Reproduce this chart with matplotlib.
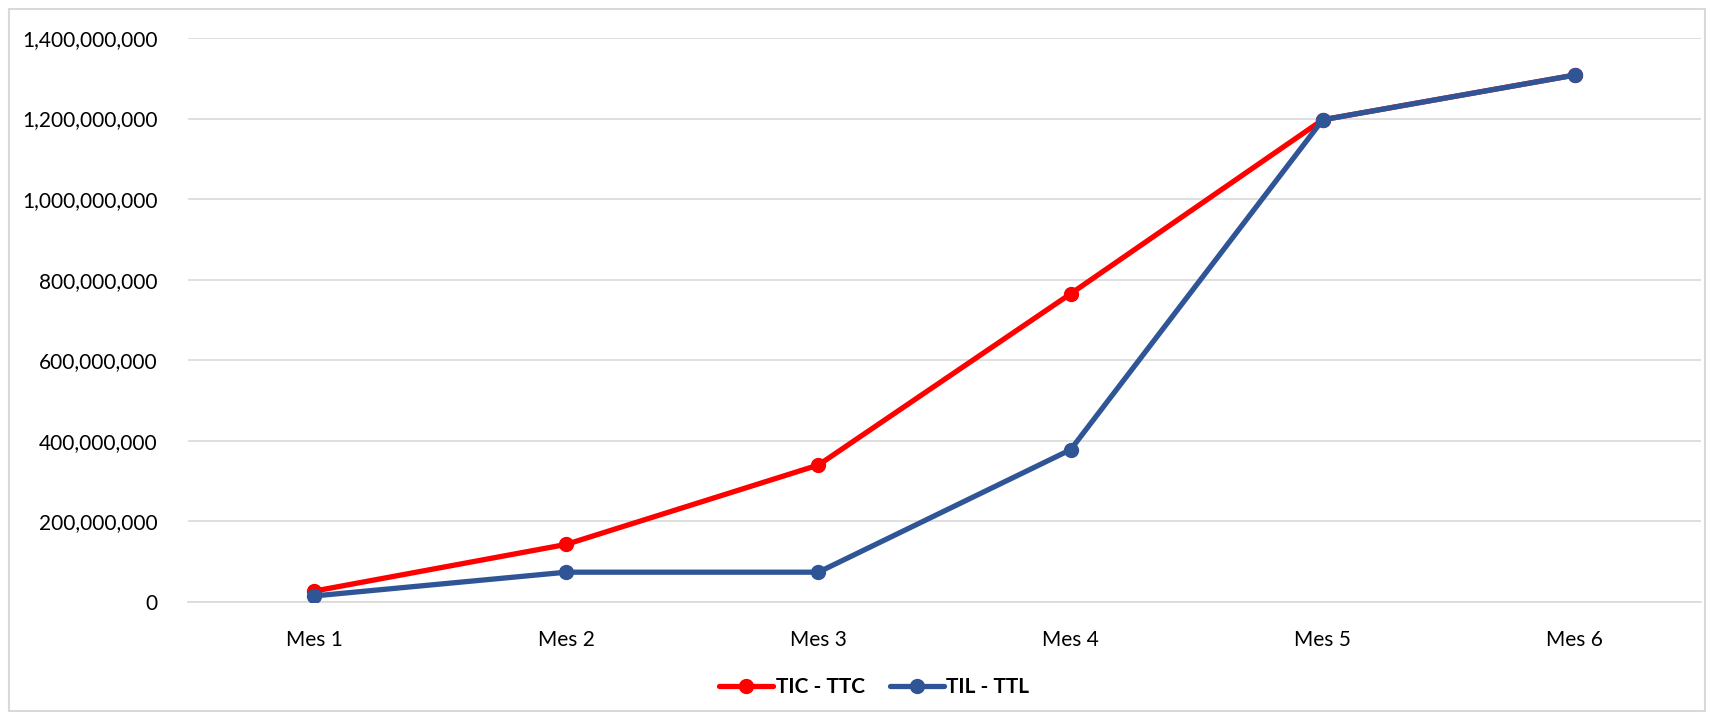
import matplotlib
matplotlib.use("Agg")
import matplotlib.pyplot as plt
from matplotlib.patches import Rectangle
from matplotlib.ticker import FuncFormatter

categories = ["Mes 1", "Mes 2", "Mes 3", "Mes 4", "Mes 5", "Mes 6"]
tic_ttc = [27_000_000, 143_000_000, 340_000_000, 765_000_000, 1_197_000_000, 1_308_000_000]
til_ttl = [15_000_000, 74_000_000, 74_000_000, 378_000_000, 1_197_000_000, 1_308_000_000]
y_ticks = [0, 200_000_000, 400_000_000, 600_000_000, 800_000_000, 1_000_000_000,
           1_200_000_000, 1_400_000_000]

plt.rcParams["font.family"] = ["Lato", "DejaVu Sans"]

fig = plt.figure(figsize=(17.14, 7.2), dpi=100)
ax = fig.add_axes([188 / 1714, 1 - 602 / 720, (1701 - 188) / 1714, (602 - 38) / 720])

# chart frame
fig.patches.append(Rectangle((9 / 1714, 9 / 720), 1 - 18 / 1714, 1 - 18 / 720,
                             transform=fig.transFigure, fill=False,
                             edgecolor="#D9D9D9", linewidth=1.5))

x = list(range(len(categories)))
red = "#FF0000"
blue = "#2F5597"
ax.plot(x, tic_ttc, color=red, linewidth=3.8, marker="o", markersize=10,
        label="TIC - TTC", solid_capstyle="round", zorder=3)
ax.plot(x, til_ttl, color=blue, linewidth=3.8, marker="o", markersize=10,
        label="TIL - TTL", solid_capstyle="round", zorder=4)

ax.set_xlim(-0.5, len(categories) - 0.5)
ax.set_ylim(0, 1_400_000_000)
ax.set_yticks(y_ticks)
ax.yaxis.set_major_formatter(FuncFormatter(lambda v, p: f"{int(v):,}"))
ax.set_xticks(x)
ax.set_xticklabels(categories)

ax.grid(axis="y", color="#D9D9D9", linewidth=1.2)
ax.set_axisbelow(True)
for s in ["top", "right", "left"]:
    ax.spines[s].set_visible(False)
ax.spines["bottom"].set_color("#D9D9D9")
ax.spines["bottom"].set_linewidth(1.2)
ax.tick_params(axis="both", length=0, labelsize=15, colors="#000000")
ax.tick_params(axis="y", pad=22)
ax.tick_params(axis="x", pad=20)

leg = fig.legend(loc="center", bbox_to_anchor=(874 / 1714, 1 - 687 / 720), ncol=2,
                 frameon=False, prop={"weight": "bold", "size": 15},
                 handlelength=2.6, handletextpad=0.1, columnspacing=1.2)

fig.savefig("out.png", dpi=100)
